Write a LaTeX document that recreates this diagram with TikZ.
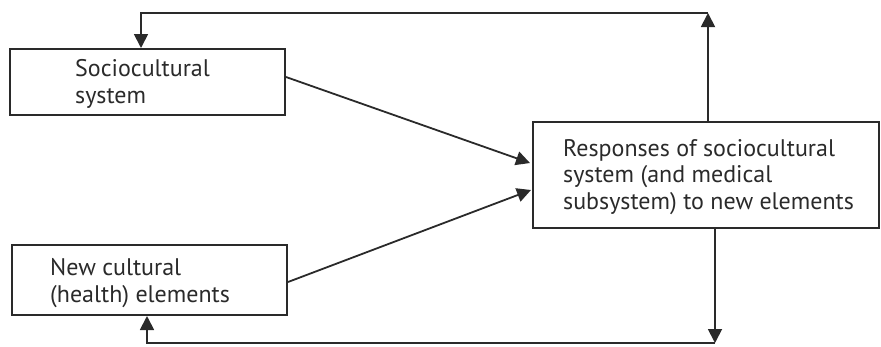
\documentclass[tikz,border=0pt]{standalone}
\usepackage{fontspec}
\setmainfont{PT Sans}
\usetikzlibrary{arrows.meta,calc}
\definecolor{ink}{HTML}{2A2A2A}
\tikzset{
  box/.style={draw=ink, line width=2pt, rectangle, inner sep=0pt},
  lbl/.style={text=ink, align=left, anchor=west, inner sep=0pt, font=\fontsize{24}{26.5}\selectfont},
  arr/.style={draw=ink, line width=1.8pt, -{Triangle[length=14pt,width=14pt]}},
  ln/.style={draw=ink, line width=1.8pt}
}
\begin{document}
\begin{tikzpicture}[x=1pt,y=-1pt]
\useasboundingbox (0,0) rectangle (881,346);
\node[box, minimum width=275, minimum height=66] (soc) at (147.5,82) {};
\node[lbl] (soct) at (75,84) {Sociocultural\\system};
\node[box, minimum width=275, minimum height=70] (new) at (149.5,280) {};
\node[lbl] (newt) at (50,283) {New cultural\\(health) elements};
\node[box, minimum width=346, minimum height=106] (resp) at (706,175) {};
\node[lbl] (respt) at (563,177) {Responses of sociocultural\\system (and medical\\subsystem) to new elements};
\coordinate (tr) at (708,13);
\coordinate (tl) at (141,13);
\coordinate (br) at (715,343);
\coordinate (bl) at (147,343);
\draw[arr] ($(soc.east)+(0,-5)$) -- ($(resp.west)+(-2,-12)$);
\draw[arr] ($(new.east)+(0,2)$) -- ($(resp.west)+(-1,15)$);
\draw[arr] (resp.north -| tr) -- (tr);
\draw[arr] (tr) -- (tl) -- (soc.north -| tl);
\draw[arr] (resp.south -| br) -- (br);
\draw[arr] (br) -- (bl) -- (new.south -| bl);
\end{tikzpicture}
\end{document}
